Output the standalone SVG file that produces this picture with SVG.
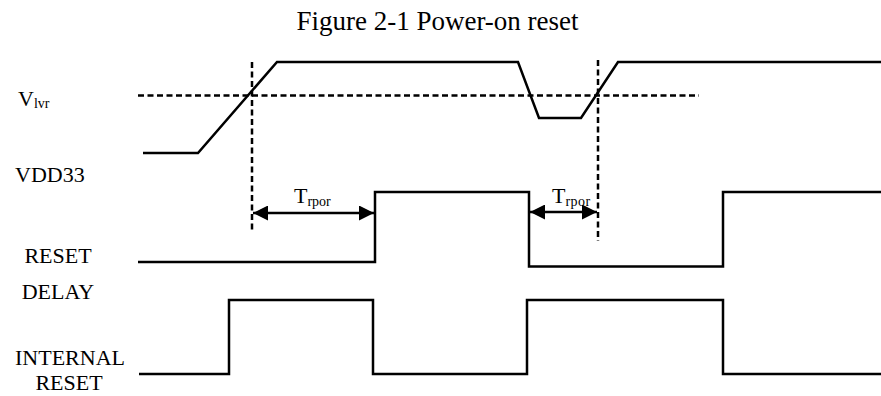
<svg xmlns="http://www.w3.org/2000/svg" width="881" height="396" viewBox="0 0 881 396">
<style>
text{font-family:"Liberation Serif","Times New Roman",serif;fill:#000}
.lbl{font-size:22px}
.sub{font-size:14px}
.sig{fill:none;stroke:#000;stroke-width:2.5;stroke-linejoin:miter}
.dash{fill:none;stroke:#000;stroke-width:2.5;stroke-dasharray:6 3.5}
.arr{fill:none;stroke:#000;stroke-width:2.5}
</style>
<defs>
<marker id="ah" viewBox="0 0 10 10" refX="10" refY="5" markerWidth="17" markerHeight="15" markerUnits="userSpaceOnUse" orient="auto-start-reverse">
<path d="M0,0 L10,5 L0,10 Z" fill="#000"/>
</marker>
</defs>
<rect width="881" height="396" fill="#fff"/>
<text x="437.5" y="30" text-anchor="middle" style="font-size:27px">Figure 2-1 Power-on reset</text>
<g id="labels">
<g id="vlvr-label"><text x="18" y="106" class="lbl">V<tspan class="sub" dy="2">lvr</tspan></text></g>
<g id="vdd33-label"><text x="15" y="182" class="lbl">VDD33</text></g>
<g id="reset-delay-label"><text x="58" y="263" class="lbl" text-anchor="middle">RESET</text><text x="58" y="299" class="lbl" text-anchor="middle">DELAY</text></g>
<g id="internal-reset-label"><text x="70" y="365" class="lbl" text-anchor="middle">INTERNAL</text><text x="69" y="390" class="lbl" text-anchor="middle">RESET</text></g>
</g>
<g id="vdd33"><path class="sig" d="M143,153 L198,153 L277,62 L518,62 L539,118 L581,118 L618,62 L881,62"/></g>
<g id="reset-delay"><path class="sig" d="M138,262 L375,262 L375,192 L529,192 L529,266.5 L723,266.5 L723,192 L881,192"/></g>
<g id="internal-reset"><path class="sig" d="M139,374 L229,374 L229,300 L373,300 L373,374 L527,374 L527,300 L723,300 L723,374 L881,374"/></g>
<g id="connectors">
<path class="dash" d="M138,95.5 L699,95.5"/>
<path class="dash" d="M252,62 L252,233"/>
<path class="dash" d="M598,60 L598,241"/>
<path class="arr" d="M253,213 L374,213" marker-start="url(#ah)" marker-end="url(#ah)"/>
<path class="arr" d="M530,212 L597,212" marker-start="url(#ah)" marker-end="url(#ah)"/>
</g>
<g id="trpor-1"><text x="294" y="203" class="lbl">T<tspan class="sub" dy="3">rpor</tspan></text></g>
<g id="trpor-2"><text x="552" y="203" class="lbl">T<tspan class="sub" dy="3" letter-spacing="0.5">rpor</tspan></text></g>
</svg>
